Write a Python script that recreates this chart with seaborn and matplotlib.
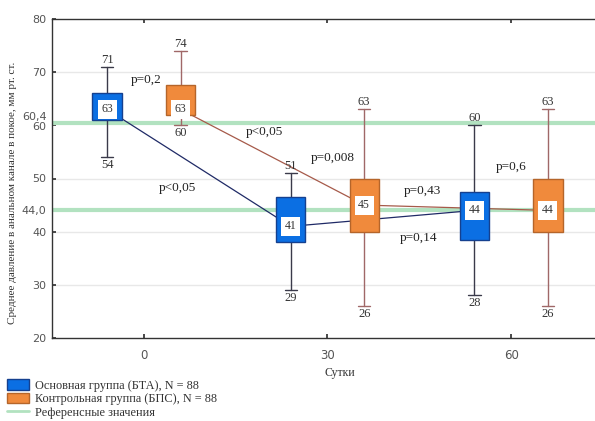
import matplotlib
matplotlib.use("Agg")
import matplotlib.pyplot as plt
import matplotlib.patches as mpatches
import matplotlib.lines as mlines
import matplotlib.transforms as mtransforms
import seaborn as sns
import pandas as pd

# Days of observation
days = [0, 30, 60]

# Main group (BTA): centre value, box bounds, whisker ends
bta_center = [63, 41, 44]
bta_q1 = [61, 38, 38.5]
bta_q3 = [66, 46.5, 47.5]
bta_low = [54, 29, 28]
bta_high = [71, 51, 60]

# Control group (BPS)
bps_center = [63, 45, 44]
bps_q1 = [62, 40, 40]
bps_q3 = [67.5, 50, 50]
bps_low = [60, 26, 26]
bps_high = [74, 63, 63]

# Reference values
ref_values = [60.4, 44.0]
ref_labels = ["60,4", "44,0"]

# p-values: text, day position, height
p_texts = ["p=0,2", "p<0,05", "p<0,05", "p=0,008", "p=0,43", "p=0,14", "p=0,6"]
p_x = [0.3, 19.7, 5.5, 30.8, 45.5, 44.8, 60.0]
p_y = [68.6, 58.7, 48.3, 53.8, 47.6, 38.9, 52.2]

y_ticks = [20, 30, 40, 50, 60, 70, 80]
x_ticks = [0, 30, 60]

sns.set_theme(style="white")
plt.rcParams["font.family"] = ["DejaVu Sans"]
serif = ["Liberation Serif", "DejaVu Serif"]

fig = plt.figure(figsize=(5.95, 4.21), dpi=100)
ax = fig.add_axes([52 / 595, 1 - 338 / 421, 1 - 52 / 595, (338 - 19) / 421])

offset = 6.0
box_w = 4.8

blue_fill, blue_edge, blue_line = "#0b6fe3", "#15408f", "#1f2a66"
orng_fill, orng_edge, orng_line = "#f08a3c", "#b5652a", "#a65a4a"
whisk_blue, whisk_orng = "#3a3a4a", "#a06868"
ref_col = "#b2e2c0"

# Light horizontal grid
ax.set_ylim(20, 80)
ax.set_xlim(-15, 73.7)
for y in [30, 40, 50, 70]:
    ax.axhline(y, color="#e8e8e8", lw=1.0, zorder=0)

# Reference levels
for rv in ref_values:
    ax.axhline(rv, color=ref_col, lw=3, zorder=1)

# Connecting lines between group centres
lines_df = pd.DataFrame({
    "day": [d - offset for d in days] + [d + offset for d in days],
    "value": bta_center + bps_center,
    "group": ["БТА"] * 3 + ["БПС"] * 3,
})
sns.lineplot(data=lines_df, x="day", y="value", hue="group",
             palette={"БТА": blue_line, "БПС": orng_line},
             lw=0.9, legend=False, ax=ax, zorder=2, sort=False)


def draw_boxes(center, q1, q3, low, high, shift, fill, edge, wcol):
    stats = []
    for c, a, b, lo, hi in zip(center, q1, q3, low, high):
        stats.append({"med": c, "q1": a, "q3": b, "whislo": lo, "whishi": hi, "fliers": []})
    pos = [d + shift for d in days]
    ax.bxp(stats, positions=pos, widths=box_w, patch_artist=True,
           showfliers=False, capwidths=2.0, manage_ticks=False,
           boxprops=dict(facecolor=fill, edgecolor=edge, lw=1.0, zorder=3),
           whiskerprops=dict(color=wcol, lw=1.0, zorder=2.5),
           capprops=dict(color=wcol, lw=1.0, zorder=2.5),
           medianprops=dict(visible=False))
    for p, c, lo, hi in zip(pos, center, low, high):
        ax.text(p, c, f"{c:g}", ha="center", va="center", fontsize=8.5,
                family=serif, color="#333333", zorder=5,
                bbox=dict(boxstyle="square,pad=0.3", fc="white", ec="none"))
        ax.text(p, hi + 0.2, f"{hi:g}", ha="center", va="bottom",
                fontsize=9, family=serif, color="#333333", zorder=5)
        ax.text(p, lo - 0.3, f"{lo:g}", ha="center", va="top",
                fontsize=9, family=serif, color="#333333", zorder=5)


draw_boxes(bta_center, bta_q1, bta_q3, bta_low, bta_high, -offset,
           blue_fill, blue_edge, whisk_blue)
draw_boxes(bps_center, bps_q1, bps_q3, bps_low, bps_high, offset,
           orng_fill, orng_edge, whisk_orng)

for t, x, y in zip(p_texts, p_x, p_y):
    ax.text(x, y, t, ha="center", va="center", fontsize=9.5, family=serif,
            color="#222222", zorder=5)

# Axes, ticks and labels
ax.set_yticks(y_ticks + ref_values)
ax.set_yticklabels([str(v) for v in y_ticks] + ref_labels)
ax.set_xticks(x_ticks)
ax.set_xticklabels([str(v) for v in x_ticks])
ax.tick_params(axis="both", direction="in", length=3, labelsize=8,
               labelcolor="#555555", color="#333333", pad=4,
               top=True, bottom=True, left=True, right=False)
ax.tick_params(axis="x", labelsize=8.5, pad=8)
# lift the "60,4" label so it sits above the "60" label
for lbl in ax.get_yticklabels():
    if lbl.get_text() == "60,4":
        lbl.set_transform(lbl.get_transform() +
                          mtransforms.ScaledTranslation(0, 7 / 100, fig.dpi_scale_trans))
    if lbl.get_text() == "60":
        lbl.set_transform(lbl.get_transform() +
                          mtransforms.ScaledTranslation(0, -1 / 100, fig.dpi_scale_trans))
for side in ["left", "bottom", "top"]:
    ax.spines[side].set_color("#333333")
    ax.spines[side].set_linewidth(1.0)
ax.spines["right"].set_visible(False)
ax.set_xlabel("")
ax.set_ylabel("")

fig.text(13 / 595, 1 - 193 / 421,
         "Среднее давление в анальном канале в покое, мм рт. ст.",
         rotation=90, ha="center", va="center", fontsize=8, family=serif,
         color="#333333")
fig.text(340 / 595, 1 - 373 / 421, "Сутки", ha="center", va="center",
         fontsize=8.5, family=serif, color="#333333")

handles = [
    mpatches.Patch(facecolor=blue_fill, edgecolor=blue_edge, label="Основная группа (БТА), N = 88"),
    mpatches.Patch(facecolor=orng_fill, edgecolor=orng_edge, label="Контрольная группа (БПС), N = 88"),
    mlines.Line2D([], [], color=ref_col, lw=2, label="Референсные значения"),
]
fig.legend(handles=handles, loc="lower left", bbox_to_anchor=(0.0, -0.012),
           frameon=False, prop={"family": serif, "size": 8.8},
           handlelength=1.8, handleheight=0.9, handletextpad=0.5,
           labelspacing=0.1, borderaxespad=0.2, labelcolor="#333333")

fig.savefig("out.png", dpi=100)
